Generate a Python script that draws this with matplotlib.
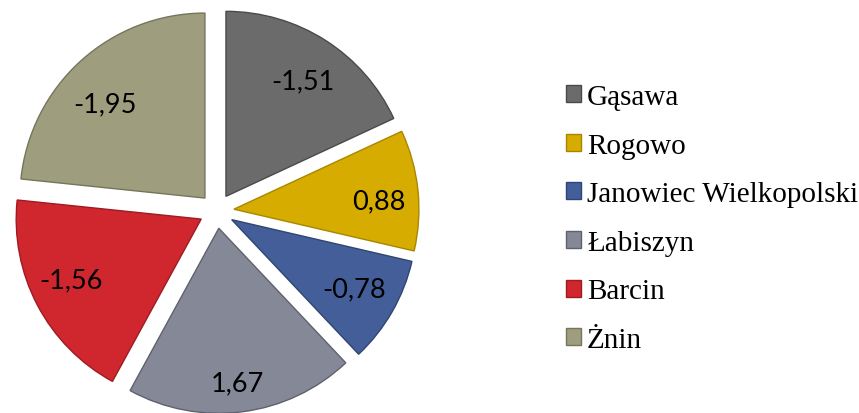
import matplotlib
matplotlib.use("Agg")
import matplotlib.pyplot as plt
import numpy as np

categories = ["Gąsawa", "Rogowo", "Janowiec Wielkopolski", "Łabiszyn", "Barcin", "Żnin"]
values = [-1.51, 0.88, -0.78, 1.67, -1.56, -1.95]

colors = ["#6B6B6B", "#D6AC00", "#445E9A", "#858896", "#D0262E", "#9E9E7E"]
edges = ["#4A4A4A", "#A88700", "#2F4573", "#5E616E", "#9E1B22", "#75755B"]
label_dist = [0.752, 0.785, 0.76, 0.842, 0.777, 0.742]
label_rot = [-1.0, -2.7, 0.4, -0.6, -2.6, 4.7]  # angular nudge (deg)

W, H = 859, 414
fig = plt.figure(figsize=(W / 100, H / 100), dpi=100)
ax = fig.add_axes([0, 0, 1, 1])

sizes = [abs(v) for v in values]
cx, cy, r = 216.6, H - 212.0, 185.0
wedges, _ = ax.pie(sizes, colors=colors, startangle=90, counterclock=False,
                   explode=[17.4] * len(sizes), radius=r, center=(cx, cy),
                   wedgeprops=dict(linewidth=1.0), frame=True)
ax.set_xlim(0, W)
ax.set_ylim(0, H)
ax.set_aspect("equal")
ax.axis("off")
for w, e in zip(wedges, edges):
    w.set_edgecolor(e)

for w, v, d, da in zip(wedges, values, label_dist, label_rot):
    ang = np.deg2rad((w.theta1 + w.theta2) / 2 + da)
    wx, wy = w.center
    x = wx + d * r * np.cos(ang)
    y = wy + d * r * np.sin(ang)
    ax.text(x, y, f"{v:.2f}".replace(".", ","), ha="center", va="center",
            fontsize=19.5, family="Lato", color="black")

leg = ax.legend(wedges, categories, loc="center left", bbox_to_anchor=(566 / W, 1 - 219.5 / H),
                bbox_transform=fig.transFigure, frameon=False,
                prop=dict(family="Liberation Serif", size=21),
                handlelength=0.52, handleheight=0.52, handletextpad=0.2,
                labelspacing=0.775, borderaxespad=0, borderpad=0)

fig.savefig("out.png", dpi=100)
